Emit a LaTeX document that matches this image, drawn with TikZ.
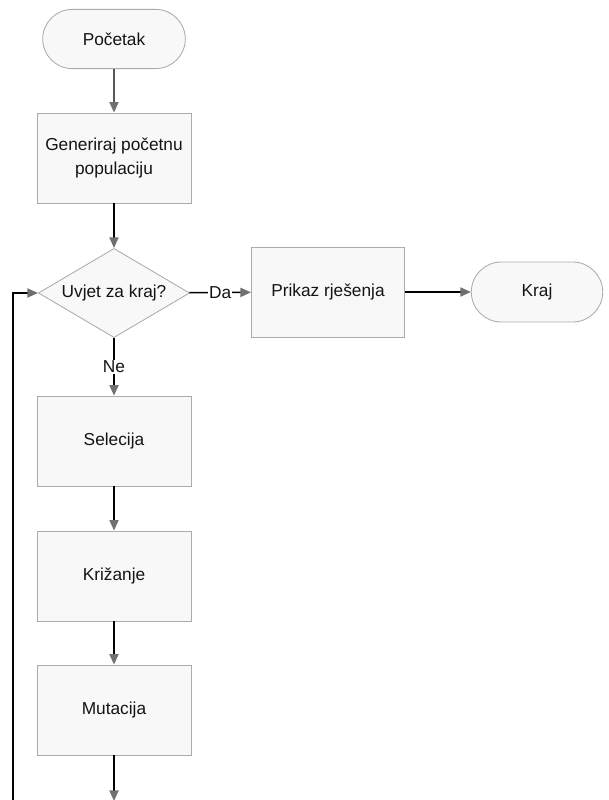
\documentclass[tikz,border=0pt]{standalone}
\usepackage{fontspec}
\setmainfont{Liberation Sans}
\usetikzlibrary{shapes.geometric,shapes.misc,arrows.meta}
\definecolor{boxfill}{HTML}{F8F8F8}
\definecolor{boxline}{HTML}{ABABAB}
\definecolor{tipgray}{HTML}{707070}
\begin{document}
\begin{tikzpicture}[x=0.025cm, y=-0.025cm,
  every node/.style={font=\fontsize{12.3}{17.5}\selectfont, text=black!92},
  box/.style={draw=boxline, fill=boxfill, line width=0.6pt, minimum width=3.85cm, minimum height=2.25cm, align=center},
  term/.style={draw=boxline, fill=boxfill, line width=0.6pt, rounded rectangle, minimum width=3.8cm, minimum height=1.48cm},
  cond/.style={draw=boxline, fill=boxfill, line width=0.6pt, diamond, aspect=1.7, inner sep=0pt, minimum width=3.78cm, minimum height=2.23cm},
  arr/.style={draw=black, line width=1pt, -{Triangle[color=tipgray, length=7.5pt, width=6.5pt]}},
  lbl/.style={fill=white, inner sep=0.8pt}]
\useasboundingbox (0,0) rectangle (609,800);

\node[term] (start) at (114,39) {Početak};
\node[box] (init) at (114,158) {Generiraj početnu\\populaciju};
\node[cond] (check) at (114,293) {Uvjet za kraj?};
\node[box, minimum width=3.83cm] (show) at (328,292) {Prikaz rješenja};
\node[term, minimum width=3.52cm, minimum height=1.5cm] (stop) at (537,292) {Kraj};
\node[box] (sel) at (114,441) {Selecija};
\node[box] (cross) at (114,576) {Križanje};
\node[box] (mut) at (114,710) {Mutacija};
\coordinate (loop) at (114,801);
\coordinate (corner) at (13,801);

\draw[arr] (start) -- (init);
\draw[arr] (init) -- (check);
\draw[arr] (check) -- node[lbl] {Da} (show);
\draw[arr] (show) -- (stop);
\draw[arr] (check) -- node[lbl] {Ne} (sel);
\draw[arr] (sel) -- (cross);
\draw[arr] (cross) -- (mut);
\draw[arr] (mut) -- (loop);
\draw[arr] (loop) -- (corner) |- (check.west);
\end{tikzpicture}
\end{document}
